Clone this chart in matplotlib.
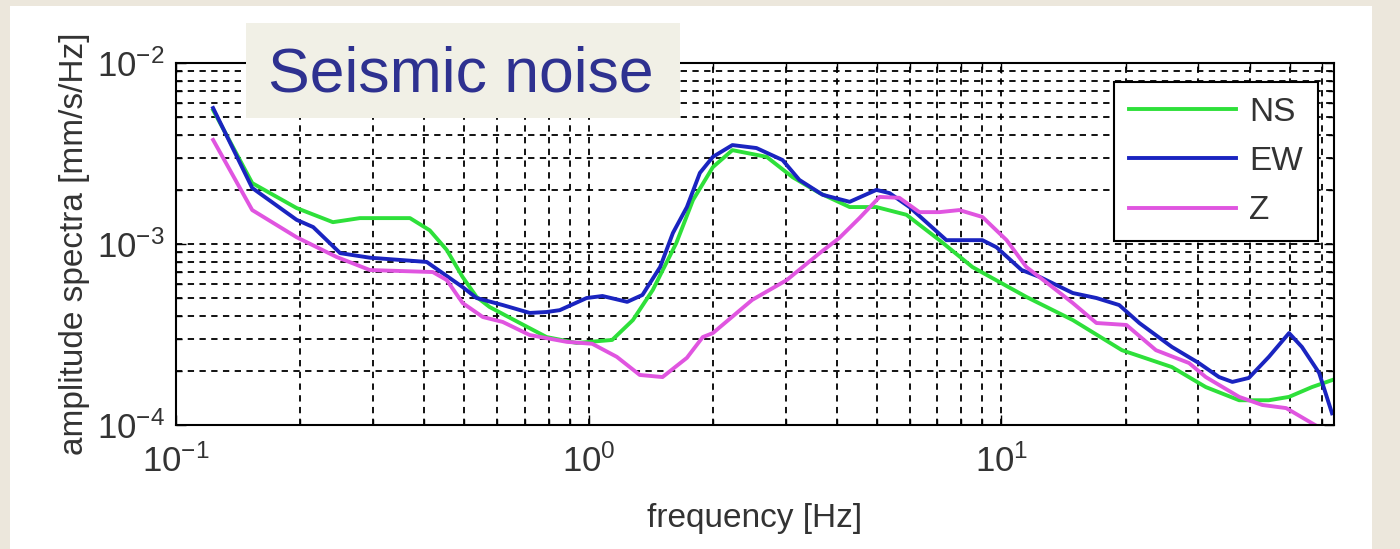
import matplotlib
matplotlib.use("Agg")
import matplotlib.pyplot as plt
from matplotlib.patches import Rectangle

plt.rcParams["font.family"] = ["Liberation Sans", "DejaVu Sans"]
plt.rcParams["mathtext.fontset"] = "custom"
plt.rcParams["mathtext.rm"] = "Liberation Sans"
plt.rcParams["axes.unicode_minus"] = False

# NS component (green)
f_ns = [0.123, 0.153, 0.196, 0.240, 0.279, 0.369, 0.412, 0.453, 0.495, 0.535,
        0.575, 0.681, 0.791, 0.935, 1.14, 1.28, 1.43, 1.63, 1.79, 2.00, 2.23,
        2.70, 3.12, 3.63, 4.29, 4.98, 5.89, 7.08, 8.51, 9.89, 11.5, 14.9,
        19.6, 25.9, 31.3, 37.7, 44.5, 49.8, 56.6, 63.3]
a_ns = [5.5e-3, 2.17e-3, 1.58e-3, 1.32e-3, 1.39e-3, 1.39e-3, 1.19e-3, 9.27e-4,
        6.57e-4, 5.1e-4, 4.49e-4, 3.66e-4, 3.06e-4, 2.84e-4, 2.95e-4, 3.8e-4,
        5.57e-4, 1.01e-3, 1.75e-3, 2.66e-3, 3.3e-3, 3.03e-3, 2.34e-3, 1.91e-3,
        1.6e-3, 1.6e-3, 1.45e-3, 1.05e-3, 7.46e-4, 6.17e-4, 5.1e-4, 3.8e-4,
        2.59e-4, 2.09e-4, 1.62e-4, 1.37e-4, 1.37e-4, 1.43e-4, 1.62e-4, 1.77e-4]

# EW component (blue)
f_ew = [0.123, 0.153, 0.196, 0.215, 0.250, 0.295, 0.405, 0.495, 0.535, 0.619,
        0.720, 0.791, 0.851, 0.989, 1.08, 1.24, 1.35, 1.49, 1.60, 1.73, 1.86,
        2.00, 2.23, 2.55, 2.95, 3.24, 3.69, 4.29, 4.98, 5.36, 5.99, 7.36, 9.00,
        9.73, 11.2, 12.4, 14.9, 17.0, 19.3, 21.6, 25.9, 30.1, 33.7, 36.3, 39.8,
        44.5, 49.8, 53.5, 58.9, 63.3]
a_ew = [5.64e-3, 2.04e-3, 1.36e-3, 1.24e-3, 8.9e-4, 8.4e-4, 7.96e-4, 5.78e-4,
        5.03e-4, 4.6e-4, 4.16e-4, 4.21e-4, 4.31e-4, 5.03e-4, 5.16e-4, 4.79e-4,
        5.23e-4, 7.46e-4, 1.15e-3, 1.6e-3, 2.47e-3, 3.03e-3, 3.52e-3, 3.39e-3,
        2.91e-3, 2.26e-3, 1.87e-3, 1.71e-3, 1.99e-3, 1.91e-3, 1.6e-3, 1.05e-3,
        1.05e-3, 9.6e-4, 7.18e-4, 6.57e-4, 5.36e-4, 5.03e-4, 4.6e-4, 3.66e-4,
        2.7e-4, 2.2e-4, 1.84e-4, 1.73e-4, 1.82e-4, 2.38e-4, 3.22e-4, 2.7e-4,
        1.94e-4, 1.16e-4]

# Z component (magenta)
f_z = [0.123, 0.153, 0.196, 0.245, 0.295, 0.419, 0.453, 0.495, 0.554, 0.619,
       0.720, 0.885, 1.02, 1.17, 1.33, 1.51, 1.73, 1.89, 2.00, 2.49, 3.02,
       3.63, 4.05, 4.53, 5.07, 5.66, 6.33, 7.08, 7.91, 9.00, 10.3, 11.5, 13.3,
       14.9, 17.0, 20.1, 23.7, 28.5, 31.3, 37.7, 42.9, 49.0, 58.9]
a_z = [3.76e-3, 1.54e-3, 1.09e-3, 8.48e-4, 7.18e-4, 7.0e-4, 6.32e-4, 4.72e-4,
       3.95e-4, 3.71e-4, 3.14e-4, 2.88e-4, 2.81e-4, 2.38e-4, 1.89e-4, 1.84e-4,
       2.35e-4, 3.06e-4, 3.22e-4, 4.91e-4, 6.32e-4, 8.91e-4, 1.08e-3, 1.39e-3,
       1.82e-3, 1.8e-3, 1.5e-3, 1.5e-3, 1.54e-3, 1.41e-3, 1.05e-3, 7.46e-4,
       5.78e-4, 4.72e-4, 3.66e-4, 3.57e-4, 2.59e-4, 2.2e-4, 1.84e-4, 1.43e-4,
       1.29e-4, 1.24e-4, 9.7e-5]

fig = plt.figure(figsize=(14, 5.49), dpi=100, facecolor="#ECE7DC")
# white card behind the chart
fig.add_artist(Rectangle((10 / 1400, 0), 1362 / 1400, 1 - 6 / 549,
                         transform=fig.transFigure, facecolor="white",
                         edgecolor="none", zorder=-1))

ax = fig.add_axes([176 / 1400, 1 - 425 / 549, 1158 / 1400, 362 / 549])

ax.plot(f_ns, a_ns, color="#2EE03A", lw=2.8, label="NS")
ax.plot(f_ew, a_ew, color="#1A24C0", lw=2.8, label="EW")
ax.plot(f_z, a_z, color="#E055E0", lw=2.8, label="Z")

ax.set_xscale("log")
ax.set_yscale("log")
ax.set_xlim(0.1, 64)
ax.set_ylim(1e-4, 1e-2)

ax.grid(which="both", color="black", linestyle=(0, (3.5, 3)), lw=1.3)
ax.tick_params(which="both", direction="in", top=True, right=True,
               colors="black", labelcolor="#333333", labelsize=25)
ax.tick_params(which="major", length=7, width=1)
ax.tick_params(which="minor", length=4, width=1)
ax.tick_params(axis="x", pad=14)
ax.tick_params(axis="y", pad=8)
for s in ax.spines.values():
    s.set_linewidth(1.5)

ax.set_xlabel("frequency [Hz]", fontsize=24, color="#333333")
ax.set_ylabel("amplitude spectra [mm/s/Hz]", fontsize=24, color="#333333")
ax.xaxis.set_label_coords(0.5, -0.215)
ax.yaxis.set_label_coords(-0.074, 0.5)

leg = ax.legend(loc="upper right", bbox_to_anchor=(0.986, 0.948),
                borderaxespad=0, fontsize=24, frameon=True, fancybox=False,
                framealpha=1, edgecolor="black", handlelength=3.2,
                handletextpad=0.4, labelspacing=0.55, borderpad=0.45)
leg.get_frame().set_linewidth(1.5)
for t in leg.get_texts():
    t.set_color("#333333")

# title box
fig.add_artist(Rectangle((246 / 1400, 1 - 118 / 549), 434 / 1400, 95 / 549,
                         transform=fig.transFigure, facecolor="#F1F0E6",
                         edgecolor="none", zorder=5))
fig.text(268 / 1400, 1 - 92 / 549, "Seismic noise", fontsize=45,
         color="#2E3190", va="baseline", ha="left", zorder=6)

fig.savefig("out.png", dpi=100, facecolor=fig.get_facecolor())
